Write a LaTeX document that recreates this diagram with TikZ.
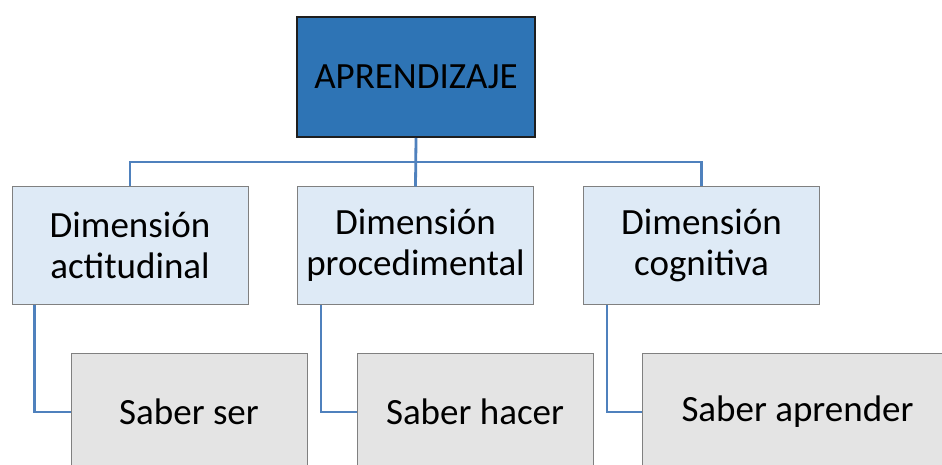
\documentclass[tikz,border=0pt]{standalone}
\usepackage{fontspec}
\setmainfont{Carlito}
\definecolor{topfill}{RGB}{46,116,181}
\definecolor{dimfill}{RGB}{222,234,246}
\definecolor{saberfill}{RGB}{228,228,228}
\definecolor{boxedge}{RGB}{128,128,128}
\definecolor{rootedge}{RGB}{30,30,30}
\definecolor{linkblue}{RGB}{79,129,189}
\begin{document}
\begin{tikzpicture}[x=1pt,y=-1pt,
  boxtext/.style={font=\fontsize{37}{41}\selectfont, align=center, inner sep=0pt, text=black},
  rootbox/.style={boxtext, draw=rootedge, line width=2pt, fill=topfill,
    minimum width=238pt, minimum height=120pt},
  dimbox/.style={boxtext, draw=boxedge, line width=1pt, fill=dimfill,
    minimum width=236pt, minimum height=117pt},
  saberbox/.style={boxtext, draw=boxedge, line width=1pt, fill=saberfill,
    minimum width=236pt, minimum height=118pt},
  link/.style={draw=linkblue, line width=2.8pt}]
\useasboundingbox (0,0) rectangle (942,465);
\clip (0,0) rectangle (942,465);
\fill[white] (0,0) rectangle (942,465);

% root and the three dimensions
\node[rootbox] (ap) at (416,77) {APRENDIZAJE};
\node[dimbox] (d1) at (130,245.5) {Dimensión\\actitudinal};
\node[dimbox] (d2) at (415.5,245.5) {Dimensión\\procedimental};
\node[dimbox] (d3) at (701.5,245.5) {Dimensión\\cognitiva};

% the three kinds of knowledge
\node[saberbox] (s1) at (189,412) {Saber ser};
\node[saberbox] (s2) at (475,412) {Saber hacer};
\node[saberbox, minimum width=311pt] (s3) at (797.5,412) {Saber aprender};

% tree connectors from the root down to the dimensions
\draw[link] (ap.south) -- (d2.north);
\draw[link] (ap.south) ++(0,24) coordinate (bus) -| (d1.north);
\draw[link] (bus) -| (d3.north);

% elbow connectors from each dimension to its box
\draw[link] (d1.south west) ++(23,0) |- (s1.west);
\draw[link] (d2.south west) ++(24,0) |- (s2.west);
\draw[link] (d3.south west) ++(24,0) |- (s3.west);
\end{tikzpicture}
\end{document}
